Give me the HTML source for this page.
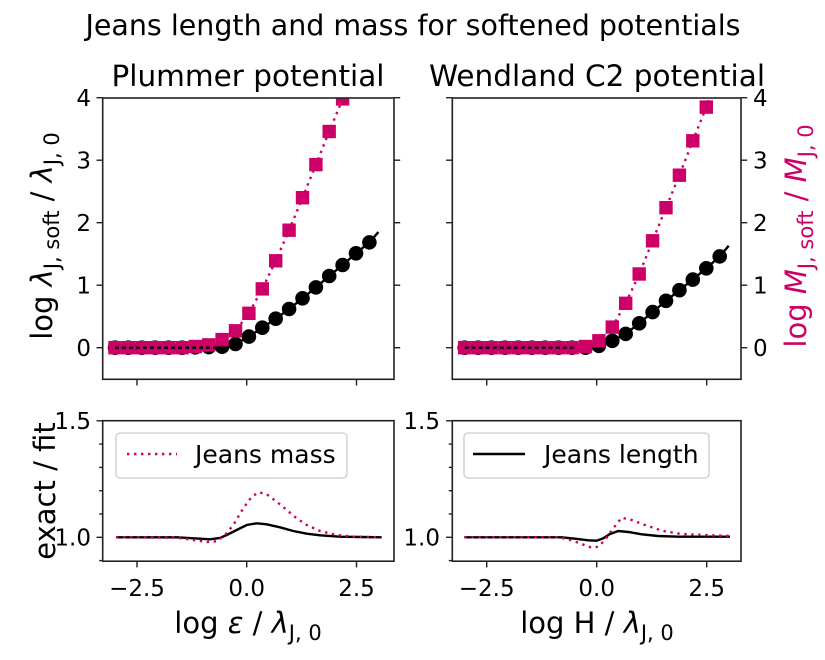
<!DOCTYPE html>
<html><head><meta charset="utf-8">
<style>
html,body{margin:0;padding:0;background:#fff;}
svg{display:block;font-family:"DejaVu Sans","Liberation Sans",sans-serif;}
</style></head>
<body>
<svg width="825" height="660" viewBox="0 0 825 660" xmlns="http://www.w3.org/2000/svg">
<rect width="825" height="660" fill="#fff"/>
<defs>
<clipPath id="c1"><rect x="102.7" y="98" width="291.3" height="281.3"/></clipPath>
<clipPath id="c2"><rect x="452.3" y="98" width="288.7" height="281.3"/></clipPath>
<clipPath id="c3"><rect x="102.7" y="420.7" width="291.3" height="140.5"/></clipPath>
<clipPath id="c4"><rect x="452.3" y="420.7" width="288.7" height="140.5"/></clipPath>
</defs>

<!-- top-left -->
<g clip-path="url(#c1)">
<polyline fill="none" stroke="#000" stroke-width="2.4" points="115,347.7 182,347.7 195.3,347.4 208.7,347.1 222.1,346.7 235.5,344 248.9,336.6 262.3,327.7 275.7,318.7 289.1,309 302.5,298.3 315.9,287.4 329.2,276 342.6,265 356,253.3 369.4,242.4 378.4,232.1"/>
<g fill="#000">
<circle cx="115" cy="347.7" r="7.3"/><circle cx="128.4" cy="347.7" r="7.3"/><circle cx="141.8" cy="347.7" r="7.3"/><circle cx="155.2" cy="347.7" r="7.3"/><circle cx="168.6" cy="347.7" r="7.3"/><circle cx="182" cy="347.7" r="7.3"/><circle cx="195.3" cy="347.4" r="7.3"/><circle cx="208.7" cy="347.1" r="7.3"/><circle cx="222.1" cy="346.7" r="7.3"/><circle cx="235.5" cy="344" r="7.3"/><circle cx="248.9" cy="336.6" r="7.3"/><circle cx="262.3" cy="327.7" r="7.3"/><circle cx="275.7" cy="318.7" r="7.3"/><circle cx="289.1" cy="309" r="7.3"/><circle cx="302.5" cy="298.3" r="7.3"/><circle cx="315.9" cy="287.4" r="7.3"/><circle cx="329.2" cy="276" r="7.3"/><circle cx="342.6" cy="265" r="7.3"/><circle cx="356" cy="253.3" r="7.3"/><circle cx="369.4" cy="242.4" r="7.3"/>
</g>
<g fill="#cc0066">
<rect x="108.3" y="341" width="13.4" height="13.4"/><rect x="121.7" y="341" width="13.4" height="13.4"/><rect x="135.1" y="341" width="13.4" height="13.4"/><rect x="148.5" y="341" width="13.4" height="13.4"/><rect x="161.9" y="341" width="13.4" height="13.4"/><rect x="175.3" y="341" width="13.4" height="13.4"/><rect x="188.6" y="339.8" width="13.4" height="13.4"/><rect x="202" y="338.2" width="13.4" height="13.4"/><rect x="215.4" y="332.9" width="13.4" height="13.4"/><rect x="228.8" y="324.1" width="13.4" height="13.4"/><rect x="242.2" y="306.6" width="13.4" height="13.4"/><rect x="255.6" y="282.2" width="13.4" height="13.4"/><rect x="269" y="254.1" width="13.4" height="13.4"/><rect x="282.4" y="223.5" width="13.4" height="13.4"/><rect x="295.8" y="191" width="13.4" height="13.4"/><rect x="309.2" y="157.9" width="13.4" height="13.4"/><rect x="322.5" y="124.8" width="13.4" height="13.4"/><rect x="335.9" y="92.2" width="13.4" height="13.4"/>
</g>
<polyline fill="none" stroke="#cc0066" stroke-width="2.4" stroke-dasharray="2.4,4.6" points="115,347.7 182,347.7 195.3,346.5 208.7,344.9 222.1,339.6 235.5,330.8 248.9,313.3 262.3,288.9 275.7,260.8 289.1,230.2 302.5,197.7 315.9,164.6 329.2,131.5 342.6,98.9 356,66.5"/>
<line x1="115" y1="347.7" x2="220" y2="347.7" stroke="#000" stroke-width="2.4" stroke-dasharray="4,3"/>
</g>

<!-- top-right -->
<g clip-path="url(#c2)">
<polyline fill="none" stroke="#000" stroke-width="2.4" points="464.7,347.7 585.5,347.7 598.9,345.8 612.3,340.8 625.7,333.9 639.2,323.3 652.6,312.1 666,300.8 679.4,290.2 692.8,279.6 706.3,268.3 719.7,256.4 728.7,245.8"/>
<g fill="#000">
<circle cx="464.7" cy="347.7" r="7.3"/><circle cx="478.1" cy="347.7" r="7.3"/><circle cx="491.5" cy="347.7" r="7.3"/><circle cx="505" cy="347.7" r="7.3"/><circle cx="518.4" cy="347.7" r="7.3"/><circle cx="531.8" cy="347.7" r="7.3"/><circle cx="545.2" cy="347.7" r="7.3"/><circle cx="558.6" cy="347.7" r="7.3"/><circle cx="572.1" cy="347.7" r="7.3"/><circle cx="585.5" cy="347.7" r="7.3"/><circle cx="598.9" cy="345.8" r="7.3"/><circle cx="612.3" cy="340.8" r="7.3"/><circle cx="625.7" cy="333.9" r="7.3"/><circle cx="639.2" cy="323.3" r="7.3"/><circle cx="652.6" cy="312.1" r="7.3"/><circle cx="666" cy="300.8" r="7.3"/><circle cx="679.4" cy="290.2" r="7.3"/><circle cx="692.8" cy="279.6" r="7.3"/><circle cx="706.3" cy="268.3" r="7.3"/><circle cx="719.7" cy="256.4" r="7.3"/>
</g>
<g fill="#cc0066">
<rect x="458" y="341" width="13.4" height="13.4"/><rect x="471.4" y="341" width="13.4" height="13.4"/><rect x="484.8" y="341" width="13.4" height="13.4"/><rect x="498.3" y="341" width="13.4" height="13.4"/><rect x="511.7" y="341" width="13.4" height="13.4"/><rect x="525.1" y="341" width="13.4" height="13.4"/><rect x="538.5" y="341" width="13.4" height="13.4"/><rect x="551.9" y="341" width="13.4" height="13.4"/><rect x="565.4" y="341" width="13.4" height="13.4"/><rect x="578.8" y="339.8" width="13.4" height="13.4"/><rect x="592.2" y="334.1" width="13.4" height="13.4"/><rect x="605.6" y="320.4" width="13.4" height="13.4"/><rect x="619" y="296.6" width="13.4" height="13.4"/><rect x="632.5" y="267.3" width="13.4" height="13.4"/><rect x="645.9" y="234.1" width="13.4" height="13.4"/><rect x="659.3" y="201" width="13.4" height="13.4"/><rect x="672.7" y="168.5" width="13.4" height="13.4"/><rect x="686.1" y="134.1" width="13.4" height="13.4"/><rect x="699.6" y="100.4" width="13.4" height="13.4"/>
</g>
<polyline fill="none" stroke="#cc0066" stroke-width="2.4" stroke-dasharray="2.4,4.6" points="464.7,347.7 572.1,347.7 585.5,346.5 598.9,340.8 612.3,327.1 625.7,303.3 639.2,274 652.6,240.8 666,207.7 679.4,175.2 692.8,140.8 706.3,107.1 719.7,72.7"/>
<line x1="464.7" y1="347.7" x2="575" y2="347.7" stroke="#000" stroke-width="2.4" stroke-dasharray="4,3"/>
</g>

<!-- bottom-left -->
<g clip-path="url(#c3)" fill="none" stroke-width="2.4">
<polyline stroke="#000" points="116,537.3 176.7,537.3 200,538.7 210,539.3 220,538 226.7,535 236.7,530 246.7,525 256.7,523.3 266.7,524.3 280,527.3 293.3,531 306.7,533.7 320,535.3 340,536.7 360,537 381.7,537.3"/>
<polyline stroke="#cc0066" stroke-dasharray="2.4,4.6" points="116,537.3 176.7,537.7 193.3,540 206.7,542 216.7,541.3 225,535 233.3,525 243.3,508.3 251.7,496.7 259,492.3 266.7,494.3 276.7,501.7 286.7,510 296.7,518.3 306.7,525 320,531 336.7,535 353.3,536.7 381.7,537.3"/>
</g>
<!-- bottom-right -->
<g clip-path="url(#c4)" fill="none" stroke-width="2.4">
<polyline stroke="#000" points="464.3,537.3 561.7,537.3 575,538.7 588.3,540.3 596.7,540.7 603.3,538.3 610,534 618.3,531 628.3,532 641.7,534.3 658.3,536 678.3,536.7 730,536.7"/>
<polyline stroke="#cc0066" stroke-dasharray="2.4,4.6" points="464.3,537.3 558.3,537.3 568.3,539.3 581.7,544 591.7,547.7 598.3,546.7 605,540 613.3,528.3 621.7,517.7 631.7,520 645,525 661.7,530.7 681.7,534 711.7,535.3 730,536"/>
</g>

<!-- axes frames -->
<g stroke="#222" stroke-width="1.6" fill="none">
<rect x="102.7" y="98" width="291.3" height="281.3"/>
<rect x="452.3" y="98" width="288.7" height="281.3"/>
<rect x="102.7" y="420.7" width="291.3" height="140.5"/>
<rect x="452.3" y="420.7" width="288.7" height="140.5"/>
</g>
<!-- ticks -->
<g stroke="#222" stroke-width="1.4">
<line x1="137" y1="379.3" x2="137" y2="385.5"/><line x1="246.7" y1="379.3" x2="246.7" y2="385.5"/><line x1="356.5" y1="379.3" x2="356.5" y2="385.5"/>
<line x1="486.7" y1="379.3" x2="486.7" y2="385.5"/><line x1="596.7" y1="379.3" x2="596.7" y2="385.5"/><line x1="706.7" y1="379.3" x2="706.7" y2="385.5"/>
<line x1="137" y1="561.2" x2="137" y2="567.4"/><line x1="246.7" y1="561.2" x2="246.7" y2="567.4"/><line x1="356.5" y1="561.2" x2="356.5" y2="567.4"/>
<line x1="486.7" y1="561.2" x2="486.7" y2="567.4"/><line x1="596.7" y1="561.2" x2="596.7" y2="567.4"/><line x1="706.7" y1="561.2" x2="706.7" y2="567.4"/>
<line x1="96.5" y1="347.7" x2="102.7" y2="347.7"/><line x1="96.5" y1="285.2" x2="102.7" y2="285.2"/><line x1="96.5" y1="222.7" x2="102.7" y2="222.7"/><line x1="96.5" y1="160.2" x2="102.7" y2="160.2"/><line x1="96.5" y1="97.7" x2="102.7" y2="97.7"/>
<line x1="394" y1="347.7" x2="400.2" y2="347.7"/><line x1="394" y1="285.2" x2="400.2" y2="285.2"/><line x1="394" y1="222.7" x2="400.2" y2="222.7"/><line x1="394" y1="160.2" x2="400.2" y2="160.2"/><line x1="394" y1="97.7" x2="400.2" y2="97.7"/>
<line x1="446.1" y1="347.7" x2="452.3" y2="347.7"/><line x1="446.1" y1="285.2" x2="452.3" y2="285.2"/><line x1="446.1" y1="222.7" x2="452.3" y2="222.7"/><line x1="446.1" y1="160.2" x2="452.3" y2="160.2"/><line x1="446.1" y1="97.7" x2="452.3" y2="97.7"/>
<line x1="741" y1="347.7" x2="747.2" y2="347.7"/><line x1="741" y1="285.2" x2="747.2" y2="285.2"/><line x1="741" y1="222.7" x2="747.2" y2="222.7"/><line x1="741" y1="160.2" x2="747.2" y2="160.2"/><line x1="741" y1="97.7" x2="747.2" y2="97.7"/>
<line x1="96.5" y1="537.3" x2="102.7" y2="537.3"/><line x1="96.5" y1="420.8" x2="102.7" y2="420.8"/>
<line x1="446.1" y1="537.3" x2="452.3" y2="537.3"/><line x1="446.1" y1="420.8" x2="452.3" y2="420.8"/>
<line x1="99.2" y1="444.1" x2="102.7" y2="444.1"/><line x1="99.2" y1="467.4" x2="102.7" y2="467.4"/><line x1="99.2" y1="490.7" x2="102.7" y2="490.7"/><line x1="99.2" y1="514" x2="102.7" y2="514"/><line x1="99.2" y1="560.6" x2="102.7" y2="560.6"/>
<line x1="448.8" y1="444.1" x2="452.3" y2="444.1"/><line x1="448.8" y1="467.4" x2="452.3" y2="467.4"/><line x1="448.8" y1="490.7" x2="452.3" y2="490.7"/><line x1="448.8" y1="514" x2="452.3" y2="514"/><line x1="448.8" y1="560.6" x2="452.3" y2="560.6"/>
</g>

<!-- tick labels -->
<g font-size="23" fill="#000">
<g text-anchor="end">
<text x="91" y="356">0</text><text x="91" y="293.5">1</text><text x="91" y="231">2</text><text x="91" y="168.5">3</text><text x="91" y="106">4</text>
<text x="91" y="545.6">1.0</text><text x="91" y="429.1">1.5</text>
<text x="440" y="545.6">1.0</text><text x="440" y="429.1">1.5</text>
</g>
<g text-anchor="start">
<text x="753" y="356">0</text><text x="753" y="293.5">1</text><text x="753" y="231">2</text><text x="753" y="168.5">3</text><text x="753" y="106">4</text>
</g>
<g text-anchor="middle">
<text x="137" y="596">−2.5</text><text x="246.7" y="596">0.0</text><text x="356.5" y="596">2.5</text>
<text x="486.7" y="596">−2.5</text><text x="596.7" y="596">0.0</text><text x="706.7" y="596">2.5</text>
</g>
</g>

<!-- titles -->
<text x="413" y="35" text-anchor="middle" font-size="28.5">Jeans length and mass for softened potentials</text>
<text x="248" y="86" text-anchor="middle" font-size="29.5">Plummer potential</text>
<text x="597" y="86" text-anchor="middle" font-size="29.5">Wendland C2 potential</text>

<!-- legends -->
<rect x="116" y="433" width="231" height="45" rx="4" fill="#fff" stroke="#ccc" stroke-width="1.3"/>
<line x1="127" y1="454" x2="177" y2="454" stroke="#cc0066" stroke-width="2.4" stroke-dasharray="2.4,4.6"/>
<text x="195" y="463" font-size="25">Jeans mass</text>
<rect x="464" y="433" width="245" height="45" rx="4" fill="#fff" stroke="#ccc" stroke-width="1.3"/>
<line x1="473" y1="454" x2="525" y2="454" stroke="#000" stroke-width="2.4"/>
<text x="544" y="463" font-size="25">Jeans length</text>

<!-- axis labels -->
<text transform="translate(52,236) rotate(-90)" text-anchor="middle" font-size="29">log <tspan font-style="italic">λ</tspan><tspan font-size="21" dy="7">J, soft</tspan><tspan dy="-7"> / </tspan><tspan font-style="italic">λ</tspan><tspan font-size="21" dy="7">J, 0</tspan></text>
<text transform="translate(806,236) rotate(-90)" text-anchor="middle" font-size="29" fill="#cc0066">log <tspan font-style="italic">M</tspan><tspan font-size="21" dy="7">J, soft</tspan><tspan dy="-7"> / </tspan><tspan font-style="italic">M</tspan><tspan font-size="21" dy="7">J, 0</tspan></text>
<text transform="translate(55,491) rotate(-90)" text-anchor="middle" font-size="29">exact / fit</text>
<text x="248" y="633" text-anchor="middle" font-size="29">log <tspan font-style="italic">ε</tspan> / <tspan font-style="italic">λ</tspan><tspan font-size="21" dy="7">J, 0</tspan></text>
<text x="597" y="633" text-anchor="middle" font-size="29">log H / <tspan font-style="italic">λ</tspan><tspan font-size="21" dy="7">J, 0</tspan></text>
</svg>
</body></html>
